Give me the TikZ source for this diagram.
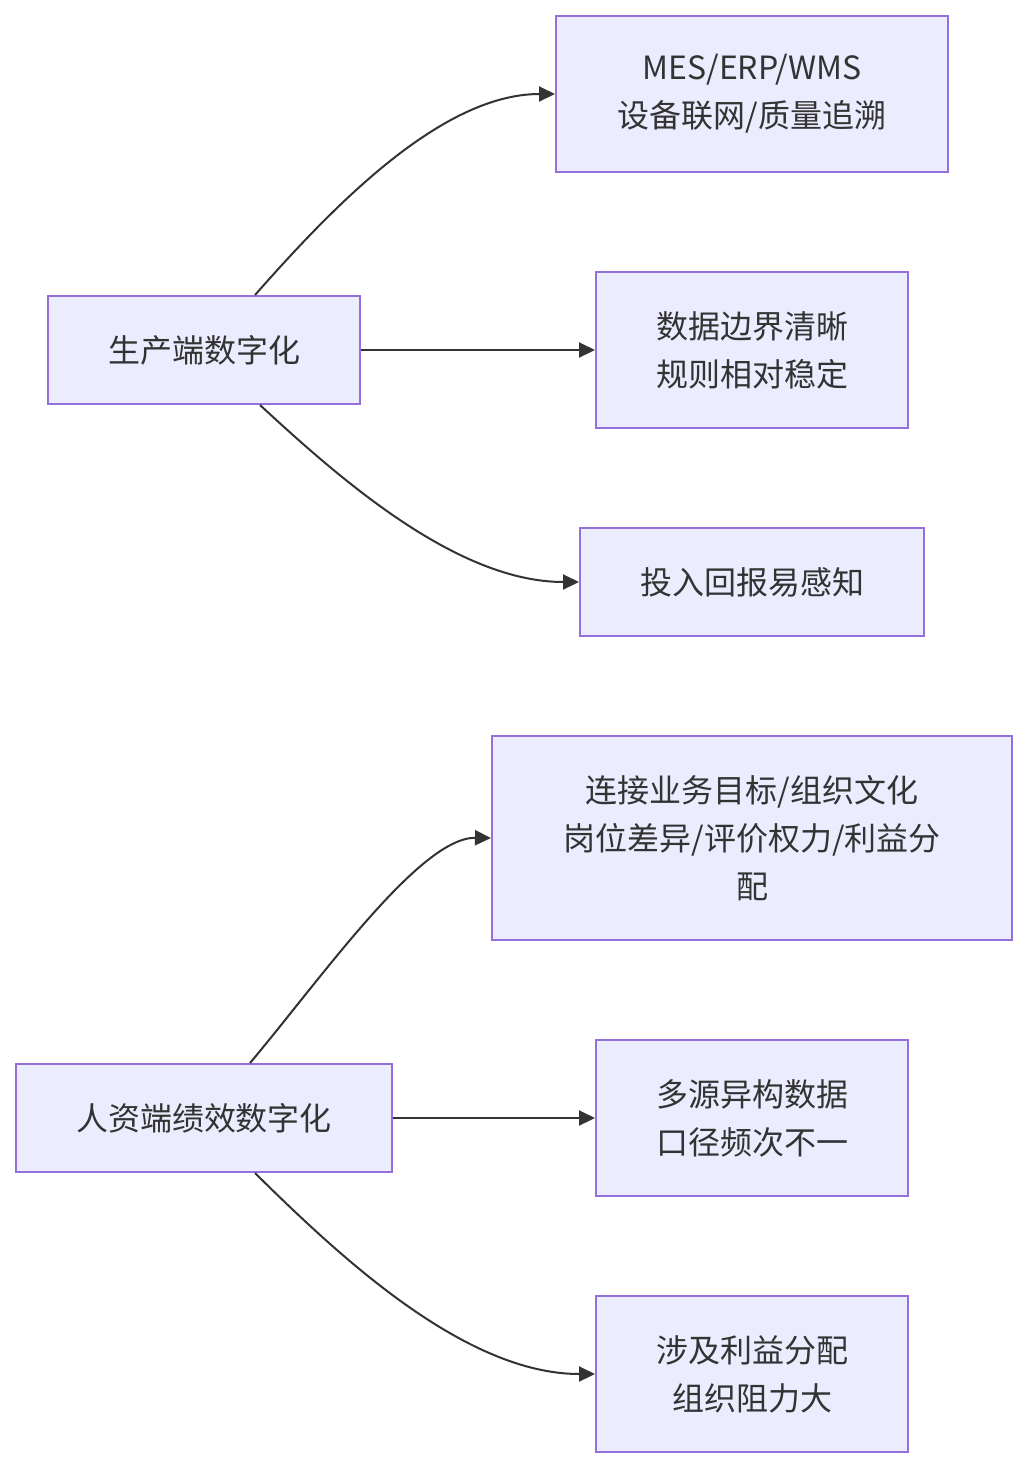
\documentclass[tikz,border=0pt]{standalone}
\usepackage{fontspec}
\setmainfont{Noto Sans CJK SC}
\usetikzlibrary{arrows.meta,calc}
\definecolor{boxfill}{HTML}{ECECFF}
\definecolor{boxline}{HTML}{9370DB}
\definecolor{ink}{HTML}{333333}
\tikzset{
  box/.style={draw=boxline, fill=boxfill, line width=2pt, rectangle, inner sep=0pt,
    align=center, text=ink, font=\fontsize{32pt}{48pt}\selectfont},
  link/.style={draw=ink, line width=2pt, -{Triangle[length=16pt,width=15pt]}}
}
\begin{document}
\begin{tikzpicture}[x=1pt,y=-1pt]
\useasboundingbox (0,0) rectangle (1028,1468);
\node[box, minimum width=392pt, minimum height=156pt] (mes) at (752,94) {MES/ERP/WMS\\设备联网/质量追溯};
\node[box, minimum width=312pt, minimum height=156pt] (data) at (752,350) {数据边界清晰\\规则相对稳定};
\node[box, minimum width=344pt, minimum height=108pt] (roi) at (752,582) {投入回报易感知};
\node[box, minimum width=312pt, minimum height=108pt] (prod) at (204,350) {生产端数字化};
\node[box, minimum width=520pt, minimum height=204pt] (link) at (752,838) {连接业务目标/组织文化\\岗位差异/评价权力/利益分\\配};
\node[box, minimum width=312pt, minimum height=156pt] (multi) at (752,1118) {多源异构数据\\口径频次不一};
\node[box, minimum width=312pt, minimum height=156pt] (interest) at (752,1374) {涉及利益分配\\组织阻力大};
\node[box, minimum width=376pt, minimum height=108pt] (hr) at (204,1118) {人资端绩效数字化};

\draw[link] ([xshift=51pt]prod.north) .. controls (330,210) and (440,94) .. (mes.west);
\draw[link] (prod.east) -- (data.west);
\draw[link] ([xshift=56pt]prod.south) .. controls (340,479) and (457,582) .. (roi.west);
\draw[link] ([xshift=46pt]hr.north) .. controls (320,980) and (420,837) .. (link.west);
\draw[link] (hr.east) -- (multi.west);
\draw[link] ([xshift=51pt]hr.south) .. controls (340,1257) and (465,1374) .. (interest.west);
\end{tikzpicture}
\end{document}
